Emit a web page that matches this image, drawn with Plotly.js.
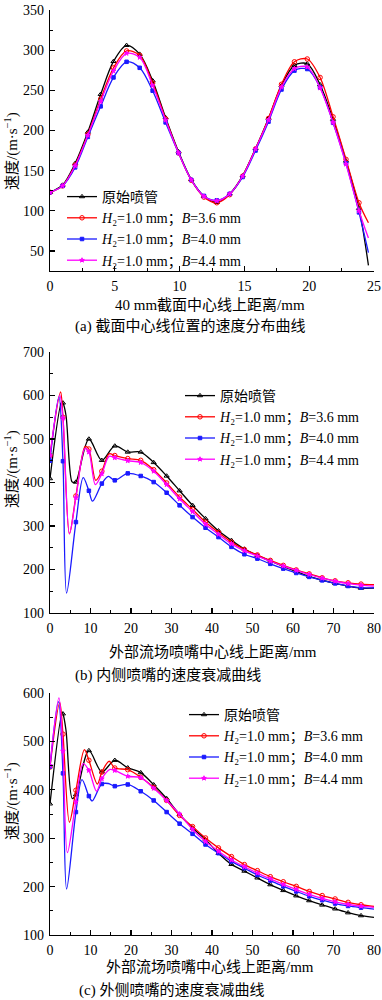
<!DOCTYPE html>
<html>
<head>
<meta charset="utf-8">
<script src="https://cdn.plot.ly/plotly-3.0.1.min.js"></script>
<style>html,body{margin:0;padding:0;background:#fff;}#chart{width:382px;height:1000px;}</style>
</head>
<body>
<div id="chart"></div>
<script>
// ---------- Series names ----------
const seriesNames = [
  '原始喷管',
  '<i>H</i>₂=1.0 mm；<i>B</i>=3.6 mm',
  '<i>H</i>₂=1.0 mm；<i>B</i>=4.0 mm',
  '<i>H</i>₂=1.0 mm；<i>B</i>=4.4 mm'
];

// ---------- Panel (a): 40 mm section centerline ----------
const aX = [0,0.97,1.94,2.92,3.91,4.9,5.91,6.92,7.92,8.92,9.92,10.9,11.88,12.87,13.86,14.86,15.86,16.86,17.86,18.86,19.85,20.84,21.84,22.84,23.84];
const aOrig = [123,132,159,198,245,286,306,295,262,216,173.5,139,118,110.5,121,143.5,177.5,215,256,281,283,257,214,162,103];
const aB36  = [123,131,157,195,239,278,299,293.5,259,214.5,172,138,117,110,120,143,177,215,257.5,285.5,289,266,217,164,110];
const aB40  = [123,131,154,192,230,266,285.5,278,249.5,210,172,138.5,118.5,113,121,142,175,211,251,274.5,276.5,253.5,209.5,159,98];
const aB44  = [123,131,156,194,236,274,296,291,256,213,172,138.5,118,112.5,121,143,177,213,254,277,279,253,210,158,100];
const aEndX = [24.57];
const aOrigEnd = [32];
const aB36End  = [85];
const aB40End  = [48];
const aB44End  = [66];

// ---------- Panel (b): inner nozzle decay ----------
const bX = [0,3.2,6.4,9.6,12.8,16,19.2,22.4,25.6,28.8,32,35.2,38.4,41.6,44.8,48,51.2,54.4,57.6,60.8,64,67.2,70.4,73.6,76.8];
const bOrig = [409,583,401,500,451,484,470,470,446,415,381,347.5,317,289,267,247,232.5,219.5,207,195,184,175.5,168,162,157];
const bB36  = [462,550,369,477,426,462,455,451,429.5,399,366.5,338,309,285,263,246,233.5,221,209.5,199,190,181,174,169.5,166.5];
const bB40  = [450,449,309,381,397.5,405,421,415,401,376.5,347.5,320.5,296,274.5,252,235,225,213,202,192,183,175,168,162,158.5];
const bB44  = [462,548,365,470,420,457,450,446,426,395,362,333,304,281,259,243,231,219,208,198,188.5,180,173,167.5,164];
const bOrigExtraX = [2.9,3.95,5.4,5.9,80];
const bOrigExtraY = [586,554,402,400,157];
const bB36ExtraX  = [2.6,4.8,8.7,11.3,14.6,80];
const bB36ExtraY  = [608,282,483,405,466,165];
const bB40ExtraX  = [2.2,4.1,8.2,10.5,14.4,80];
const bB40ExtraY  = [597,146,411,357,414,158];
const bB44ExtraX  = [2.4,4.8,8.6,11.2,14.6,80];
const bB44ExtraY  = [601,282,478,395,460,162];

// ---------- Panel (c): outer nozzle decay ----------
const cX = bX.slice();
const cOrig = [371,557,390,481,437,461,445.5,435.5,410.5,382,349,321,297,269,246,232,218,204,192,181,171,162,154,146,140];
const cB36  = [447,515,399,461,436.5,445,441.5,426,405,378,347,324,300.5,280,262,245.5,233,220.5,210,200.5,190,181.5,174.5,167.5,162.5];
const cB40  = [448,434,354,387,412,407.5,411,397,378,354,330,309,287,269,252,238,224,212.5,200.5,190,180,172,165,160,156.5];
const cB44  = [450,480,375,440,423,440,428,425,403,378,350,318,293,273,255,241,228,216,204.5,194,184,175.5,168.5,163,159.5];
const cOrigExtraX = [3.0,3.95,5.5,80];
const cOrigExtraY = [560,523,382,136.5];
const cB36ExtraX  = [2.4,4.8,8.5,11.7,14.6,80];
const cB36ExtraY  = [580,333,483,412,459,159];
const cB40ExtraX  = [2.1,4.1,7.9,10.4,14.4,80];
const cB40ExtraY  = [582,195,421,377,413,153.5];
const cB44ExtraX  = [2.2,4.3,8.2,11.5,14.8,80];
const cB44ExtraY  = [590,270,454,397,442,157];

// ---------- helpers ----------
function mergeSorted(x1, y1, x2, y2) {
  const pts = x1.map((x, i) => [x, y1[i]]).concat(x2.map((x, i) => [x, y2[i]]));
  pts.sort((p, q) => p[0] - q[0]);
  return {x: pts.map(p => p[0]), y: pts.map(p => p[1])};
}

const styles = [
  {color: '#000000', symbol: 'triangle-up-open', size: 4.5, lw: 1.3},
  {color: '#ff0000', symbol: 'circle-open', size: 4.5, lw: 1.3},
  {color: '#1a1aff', symbol: 'square', size: 3.5, lw: 1.3},
  {color: '#ff00ff', symbol: 'star', size: 3.5, lw: 1.3}
];

const traces = [];
function addPanel(xa, ya, legendId, mx, ys, exX, exY) {
  ys.forEach((y, i) => {
    const s = styles[i];
    const ln = mergeSorted(mx, y, exX[i], exY[i]);
    traces.push({x: ln.x, y: ln.y, xaxis: xa, yaxis: ya, mode: 'lines', type: 'scatter',
      line: {color: s.color, width: s.lw, shape: 'spline', smoothing: 0.9}, showlegend: false, hoverinfo: 'skip'});
    traces.push({x: mx, y: y, xaxis: xa, yaxis: ya, mode: 'markers', type: 'scatter',
      marker: {color: s.color, symbol: s.symbol, size: s.size, line: {color: s.color, width: 1}}, showlegend: false});
  });
  // legend entries
  ys.forEach((y, i) => {
    const s = styles[i];
    traces.push({x: [null], y: [null], xaxis: xa, yaxis: ya, mode: 'lines+markers', type: 'scatter',
      name: seriesNames[i], legend: legendId,
      line: {color: s.color, width: s.lw},
      marker: {color: s.color, symbol: s.symbol, size: s.size, line: {color: s.color, width: 1}}});
  });
}

addPanel('x', 'y', 'legend', aX, [aOrig, aB36, aB40, aB44],
  [aEndX, aEndX, aEndX, aEndX], [aOrigEnd, aB36End, aB40End, aB44End]);
addPanel('x2', 'y2', 'legend2', bX, [bOrig, bB36, bB40, bB44],
  [bOrigExtraX, bB36ExtraX, bB40ExtraX, bB44ExtraX], [bOrigExtraY, bB36ExtraY, bB40ExtraY, bB44ExtraY]);
addPanel('x3', 'y3', 'legend3', cX, [cOrig, cB36, cB40, cB44],
  [cOrigExtraX, cB36ExtraX, cB40ExtraX, cB44ExtraX], [cOrigExtraY, cB36ExtraY, cB40ExtraY, cB44ExtraY]);

// ---------- layout ----------
const W = 382, H = 1000;
const px = v => v / W, py = v => 1 - v / H;
const FONT = 'Liberation Serif, "Noto Sans CJK SC", serif';

function axis(domain, range, dtick, minorDtick, anchor) {
  return {
    domain: domain, range: range, dtick: dtick, tick0: 0, anchor: anchor,
    showline: true, linecolor: '#000', linewidth: 1.3, mirror: false,
    ticks: 'inside', ticklen: 5, tickwidth: 1.2, tickcolor: '#000',
    minor: {ticks: 'inside', ticklen: 3, tickwidth: 1, tickcolor: '#000', dtick: minorDtick, showgrid: false},
    showgrid: false, zeroline: false, fixedrange: true,
    tickfont: {family: FONT, size: 14, color: '#000'}, ticklabelstandoff: 2
  };
}
const xDom = [px(50), px(374)];

function leg(x, y) {
  return {x: x, y: y, xanchor: 'left', yanchor: 'top', bgcolor: 'rgba(0,0,0,0)', borderwidth: 0,
    font: {family: FONT, size: 14, color: '#000'}, tracegroupgap: 0, itemwidth: 30};
}

function ann(text, x, y, opts) {
  return Object.assign({text: text, xref: 'paper', yref: 'paper', x: px(x), y: py(y),
    xanchor: 'center', yanchor: 'middle', showarrow: false,
    font: {family: FONT, size: 15, color: '#000'}}, opts || {});
}
const yTitle = '速度/(m·s<sup>−1</sup>)';

const layout = {
  width: W, height: H, margin: {l: 0, r: 0, t: 0, b: 0},
  paper_bgcolor: '#fff', plot_bgcolor: '#fff', font: {family: FONT, color: '#000'},
  xaxis: axis(xDom, [0, 25], 5, 2.5, 'y'),
  yaxis: axis([py(271), py(10)], [25, 350], 50, 25, 'x'),
  xaxis2: axis(xDom, [0, 80], 10, 5, 'y2'),
  yaxis2: axis([py(613), py(352)], [100, 700], 100, 50, 'x2'),
  xaxis3: axis(xDom, [0, 80], 10, 5, 'y3'),
  yaxis3: axis([py(935), py(693)], [100, 600], 100, 50, 'x3'),
  legend: leg(px(62), py(181)),
  legend2: leg(px(180), py(380)),
  legend3: leg(px(184), py(699)),
  annotations: [
    ann('40 mm截面中心线上距离/mm', 210, 305),
    ann('(a) 截面中心线位置的速度分布曲线', 190, 327),
    ann('外部流场喷嘴中心线上距离/mm', 213, 652),
    ann('(b) 内侧喷嘴的速度衰减曲线', 168, 675),
    ann('外部流场喷嘴中心线上距离/mm', 210, 967),
    ann('(c) 外侧喷嘴的速度衰减曲线', 171, 990),
    ann(yTitle, 11, 151, {textangle: -90}),
    ann(yTitle, 11, 469, {textangle: -90}),
    ann(yTitle, 11, 801, {textangle: -90})
  ],
  showlegend: true
};

Plotly.newPlot('chart', traces, layout, {staticPlot: true, displayModeBar: false});
</script>
</body>
</html>
